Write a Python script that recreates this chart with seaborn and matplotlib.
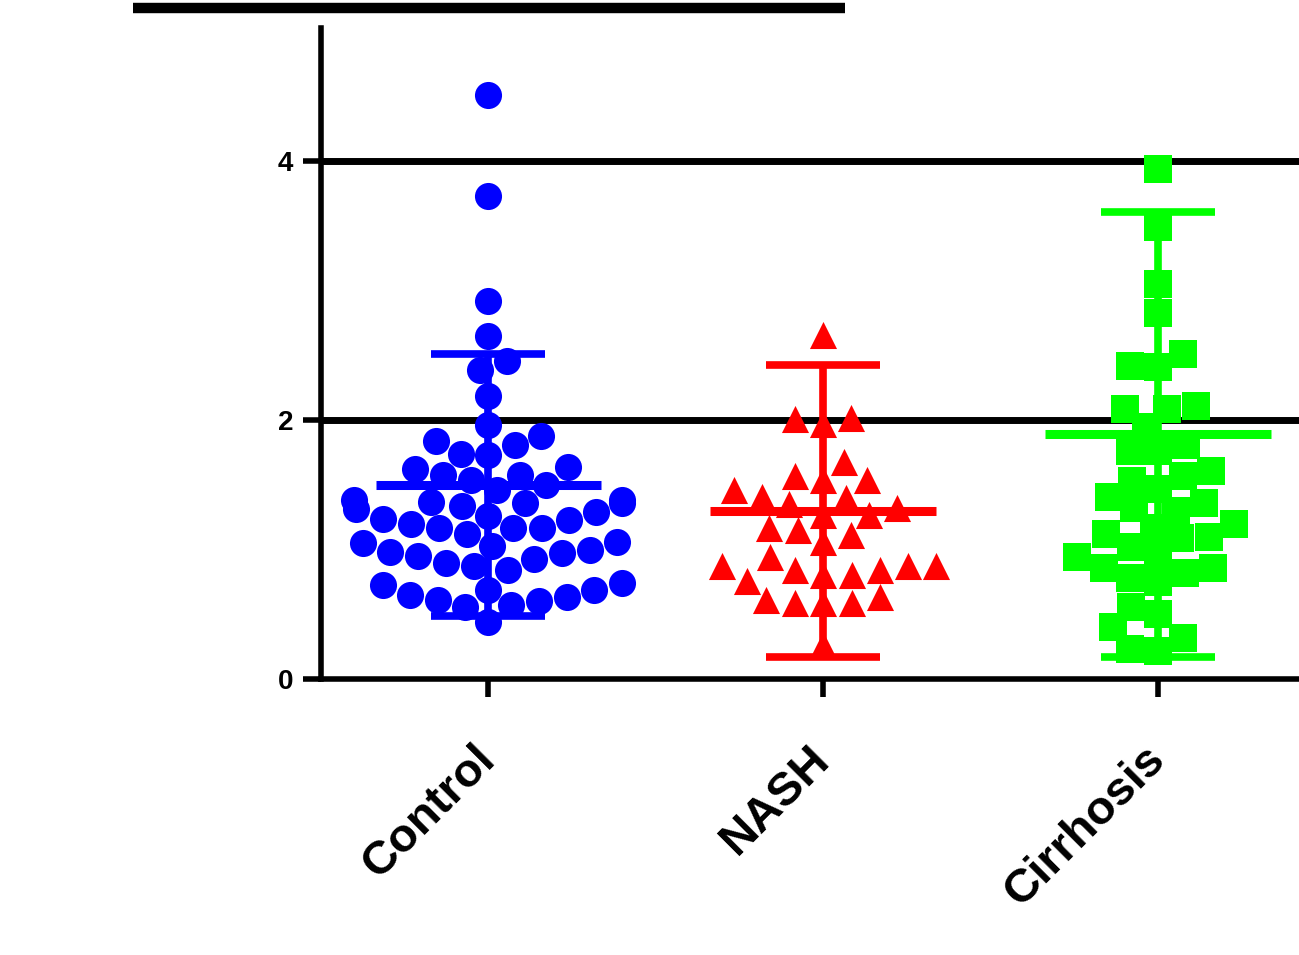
import matplotlib
matplotlib.use("Agg")
import matplotlib.pyplot as plt
from matplotlib.lines import Line2D
import seaborn as sns

# Groups and their measured values
categories = ["Control", "NASH", "Cirrhosis"]

control = [4.51, 3.73, 2.92, 2.65, 2.46, 2.39, 2.19, 1.96, 1.88, 1.84, 1.81, 1.74, 1.73,
           1.64, 1.62, 1.58, 1.58, 1.54, 1.50, 1.46,
           1.38, 1.38, 1.37, 1.36, 1.36, 1.34, 1.31, 1.29, 1.26, 1.24, 1.23, 1.20,
           1.17, 1.17, 1.17, 1.12,
           1.06, 1.05, 1.03, 1.00, 0.98, 0.97, 0.95, 0.93, 0.90, 0.87, 0.84,
           0.74, 0.73, 0.69, 0.69, 0.65, 0.63, 0.61, 0.60, 0.57, 0.56, 0.44]

nash = [2.66, 2.02, 2.01, 1.97, 1.68, 1.57, 1.54, 1.54, 1.46, 1.41, 1.40, 1.35,
        1.32, 1.27, 1.27, 1.17, 1.15, 1.11, 1.06, 0.94, 0.87, 0.87, 0.87, 0.84,
        0.84, 0.80, 0.80, 0.76, 0.63, 0.61, 0.59, 0.59, 0.59, 0.26]

cirrhosis = [3.94, 3.49, 3.05, 2.83, 2.51, 2.42, 2.41, 2.11, 2.09, 2.09, 1.95,
             1.81, 1.76, 1.76, 1.61, 1.57, 1.53, 1.47, 1.41, 1.36, 1.32, 1.30,
             1.20, 1.17, 1.12, 1.10, 1.09, 1.02, 0.96, 0.94, 0.86, 0.86, 0.82,
             0.78, 0.75, 0.56, 0.50, 0.40, 0.32, 0.23, 0.22]

# Summary bars (mean and SD) per group
means = [1.50, 1.30, 1.89]
sds = [1.01, 1.13, 1.72]

# Reference lines and axis ticks
ref_lines = [2, 4]
y_ticks = [0, 2, 4]

colors = ["#0000FF", "#FF0000", "#00FF00"]
markers = ["o", "^", "s"]

sns.set_style("white")
plt.rcParams["font.family"] = ["Liberation Sans", "DejaVu Sans"]
plt.rcParams["font.weight"] = "bold"

W, H = 1299, 955
fig = plt.figure(figsize=(W / 100, H / 100), dpi=100)
ax = fig.add_axes([321 / W, 276 / H, 1 - 321 / W, (679 - 28) / H])

groups = [control, nash, cirrhosis]
for name, vals, col, mk in zip(categories, groups, colors, markers):
    sns.swarmplot(x=[name] * len(vals), y=vals, order=categories, color=col,
                  marker=mk, size=19.5, linewidth=0, ax=ax, zorder=3,
                  warn_thresh=1.0)

for y in ref_lines:
    ax.axhline(y, color="black", lw=5, zorder=1)

# Mean line with SD whiskers
for i, (m, s, col) in enumerate(zip(means, sds, colors)):
    ax.hlines(m, i - 0.337, i + 0.337, color=col, lw=6.5, zorder=4)
    ax.errorbar(i, m, yerr=s, color=col, lw=5.5, capsize=40.7, capthick=5.5,
                zorder=4, fmt="none")

ax.set_xlim(-0.5, (W - 488) / 335)
ax.set_ylim(0, 5.03)
ax.set_yticks(y_ticks)
ax.set_yticklabels([str(t) for t in y_ticks], fontsize=20, fontweight="bold")
ax.set_xticks(range(len(categories)))
ax.set_xticklabels(categories, rotation=45, ha="right", va="center",
                   rotation_mode="anchor", fontsize=34, fontweight="bold")
ax.set_xlabel("")
ax.set_ylabel("")

for side in ["top", "right"]:
    ax.spines[side].set_visible(False)
for side in ["left", "bottom"]:
    ax.spines[side].set_linewidth(4)
    ax.spines[side].set_color("black")

ax.tick_params(axis="y", direction="out", length=13, width=4, pad=7,
               left=True, colors="black")
ax.tick_params(axis="x", direction="out", length=13, width=4, pad=40,
               bottom=True, colors="black")

# Significance bracket from the panel above
fig.add_artist(Line2D([133 / W, 845 / W], [1 - 8 / H, 1 - 8 / H],
                      color="black", lw=7.5, solid_capstyle="butt"))

fig.savefig("out.png", dpi=100)
